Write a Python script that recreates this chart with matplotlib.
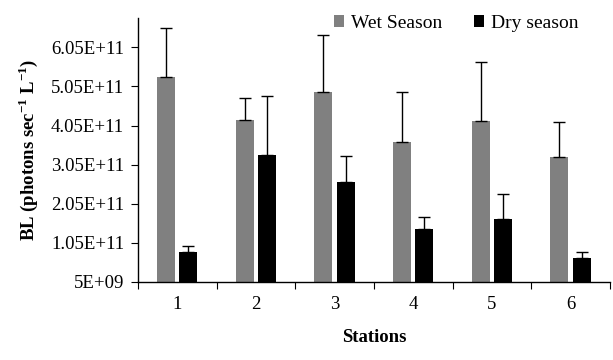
import matplotlib
matplotlib.use("Agg")
import matplotlib.pyplot as plt
import numpy as np

stations = ["1", "2", "3", "4", "5", "6"]
wet = [5.28e11, 4.18e11, 4.90e11, 3.62e11, 4.16e11, 3.24e11]
wet_err = [1.27e11, 0.58e11, 1.47e11, 1.28e11, 1.52e11, 0.91e11]
dry = [8.1e10, 3.29e11, 2.60e11, 1.40e11, 1.66e11, 6.6e10]
dry_err = [1.7e10, 1.52e11, 0.66e11, 0.30e11, 0.63e11, 1.5e10]
yticks = [5e9, 1.05e11, 2.05e11, 3.05e11, 4.05e11, 5.05e11, 6.05e11]
ytick_labels = ["5E+09", "1.05E+11", "2.05E+11", "3.05E+11", "4.05E+11", "5.05E+11", "6.05E+11"]

plt.rcParams['font.family'] = ['Liberation Serif', 'DejaVu Serif']
plt.rcParams['mathtext.fontset'] = 'custom'
plt.rcParams['mathtext.rm'] = 'Liberation Serif'
plt.rcParams['mathtext.bf'] = 'Liberation Serif:bold'

fig = plt.figure(figsize=(6.13, 3.6), dpi=100)
ax = fig.add_axes([0.225, 0.217, 0.77, 0.733])

x = np.arange(len(stations))
w = 0.23
off = 0.142
ax.bar(x - off, wet, w, color="#808080", label="Wet Season", zorder=2)
ax.bar(x + off, dry, w, color="black", label="Dry season", zorder=2)
ax.errorbar(x - off, wet, yerr=[np.zeros(len(wet)), wet_err], fmt="none",
            ecolor="black", elinewidth=1, capsize=4, capthick=1, zorder=3)
ax.errorbar(x + off, dry, yerr=[np.zeros(len(dry)), dry_err], fmt="none",
            ecolor="black", elinewidth=1, capsize=4, capthick=1, zorder=3)

ax.set_xlim(-0.5, len(stations) - 0.5)
ax.set_ylim(5e9, 6.8e11)
ax.set_yticks(yticks)
ax.set_yticklabels(ytick_labels, fontsize=13.5)

ax.set_xticks(np.arange(-0.5, len(stations)), minor=False)
ax.set_xticklabels([])
ax.set_xticks(x, minor=True)
ax.set_xticklabels(stations, minor=True, fontsize=13.5)
ax.tick_params(axis='x', which='major', length=5, direction='out')
ax.tick_params(axis='x', which='minor', length=0, pad=10)
ax.tick_params(axis='y', length=5, direction='out', pad=5)

for s in ["top", "right"]:
    ax.spines[s].set_visible(False)
ax.spines["left"].set_linewidth(1)
ax.spines["bottom"].set_linewidth(1)

ax.set_xlabel("Stations", fontsize=13.5, fontweight="bold", labelpad=12)
ax.set_ylabel(r"BL (photons sec$^{\mathbf{-1}}$ L$^{\mathbf{-1}}$)", fontsize=13.5,
              fontweight="bold", labelpad=8)

leg = ax.legend(loc="upper right", bbox_to_anchor=(0.95, 1.04), ncol=2, frameon=False,
                fontsize=14, handlelength=0.55, handleheight=0.55, handletextpad=0.35,
                columnspacing=1.6, borderaxespad=0)

fig.savefig("out.png", dpi=100)
